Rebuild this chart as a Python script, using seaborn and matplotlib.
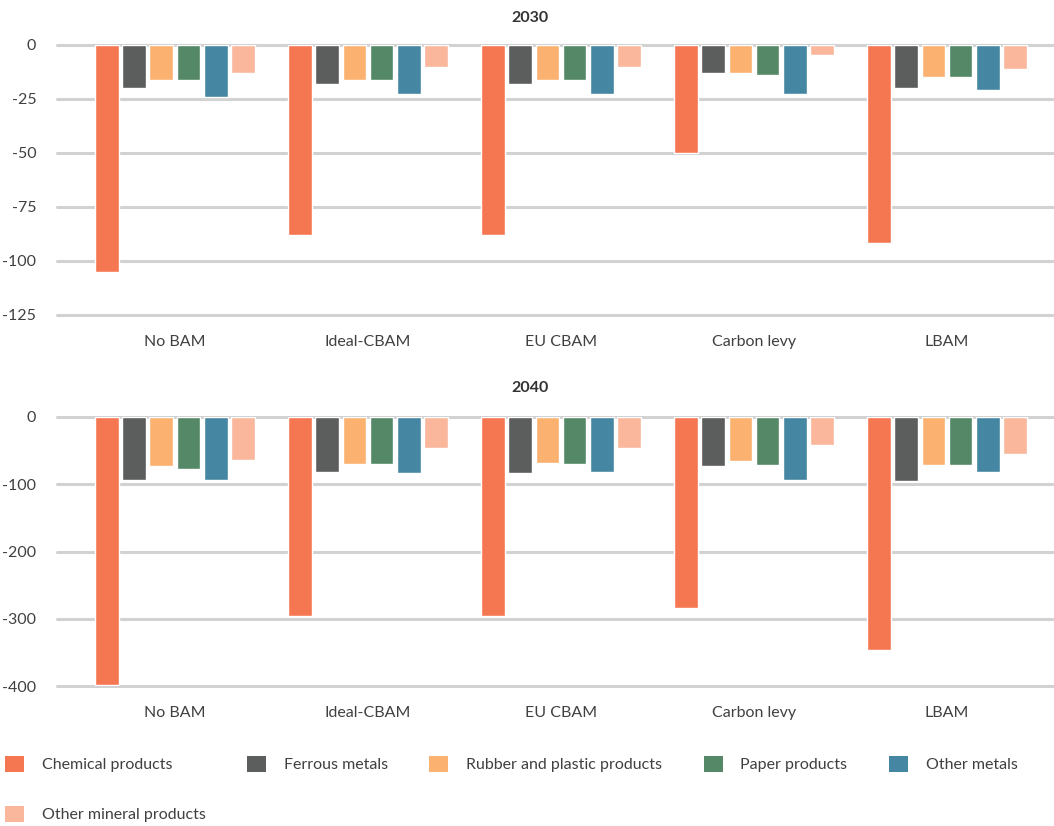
import matplotlib
matplotlib.use("Agg")
import matplotlib.pyplot as plt
import seaborn as sns
import pandas as pd

scenarios = ["No BAM", "Ideal-CBAM", "EU CBAM", "Carbon levy", "LBAM"]
sectors = ["Chemical products", "Ferrous metals", "Rubber and plastic products",
           "Paper products", "Other metals", "Other mineral products"]
colors = ["#F47752", "#5C5E5D", "#FBB170", "#548867", "#4587A3", "#FAB79C"]

# values per sector, per scenario (same order as scenarios)
v2030_chemical = [-105, -88, -88, -50, -91.5]
v2030_ferrous = [-20, -18, -18, -13, -20]
v2030_rubber = [-16, -16, -16, -13, -14.7]
v2030_paper = [-16, -16, -16, -14, -14.7]
v2030_othermetals = [-24, -22.5, -22.5, -22.5, -20.7]
v2030_mineral = [-13, -10, -10, -4.5, -11]

v2040_chemical = [-398, -296, -296, -284, -346]
v2040_ferrous = [-94, -82, -83, -73, -95]
v2040_rubber = [-73, -70, -68, -65, -71]
v2040_paper = [-77, -70, -70, -71, -71]
v2040_othermetals = [-94, -83, -82, -94, -82]
v2040_mineral = [-64, -46, -46, -42, -56]

yticks_2030 = [0, -25, -50, -75, -100, -125]
yticks_2040 = [0, -100, -200, -300, -400]


def long_df(series):
    rows = []
    for sec, vals in zip(sectors, series):
        for sc, v in zip(scenarios, vals):
            rows.append({"scenario": sc, "sector": sec, "value": v})
    return pd.DataFrame(rows)


df30 = long_df([v2030_chemical, v2030_ferrous, v2030_rubber, v2030_paper,
                v2030_othermetals, v2030_mineral])
df40 = long_df([v2040_chemical, v2040_ferrous, v2040_rubber, v2040_paper,
                v2040_othermetals, v2040_mineral])

sns.set_theme(style="white")
plt.rcParams["font.family"] = ["Lato", "DejaVu Sans"]
TXT = "#404040"

W, H = 1054, 826
fig = plt.figure(figsize=(W / 100, H / 100), dpi=100)


def px_axes(x0, y0, x1, y1):
    return fig.add_axes([x0 / W, 1 - y1 / H, (x1 - x0) / W, (y1 - y0) / H])


ax1 = px_axes(57, 45, 1053, 315)
ax2 = px_axes(57, 416.7, 1053, 686.3)

palette = dict(zip(sectors, colors))

for ax, df, ticks, lim in [(ax1, df30, yticks_2030, (-125, 0)),
                           (ax2, df40, yticks_2040, (-400, 0))]:
    sns.barplot(data=df, x="scenario", y="value", hue="sector", order=scenarios,
                hue_order=sectors, palette=palette, width=0.846, gap=0.13,
                saturation=1, legend=False, ax=ax, errorbar=None)
    ax.set_ylim(*lim)
    ax.set_yticks(ticks)
    ax.set_yticklabels([str(t) for t in ticks])
    ax.set_xlim(-0.611, 4.549)
    ax.set_xlabel("")
    ax.set_ylabel("")
    for s in ax.spines.values():
        s.set_visible(False)
    ax.set_axisbelow(True)
    ax.yaxis.grid(True, color="#D2D2D2", linewidth=2.2)
    for gl in ax.get_ygridlines():
        gl.set_clip_on(False)
    ax.tick_params(axis="both", length=0, labelsize=11.5, colors=TXT)
    ax.tick_params(axis="y", pad=15)
    ax.tick_params(axis="x", pad=14.5)

fig.text(530 / W, 1 - 18 / H, "2030", ha="center", va="center",
         fontsize=11.5, fontweight="bold", color="#333333")
fig.text(530 / W, 1 - 388 / H, "2040", ha="center", va="center",
         fontsize=11.5, fontweight="bold", color="#333333")

# legend is filled column by column; order so it reads row by row
order = [0, 5, 1, 2, 3, 4]
handles = [plt.Rectangle((0, 0), 1, 1, facecolor=colors[i], edgecolor="none") for i in order]
labels = [sectors[i] for i in order]
leg = fig.legend(handles, labels, loc="upper left",
                 bbox_to_anchor=(0 / W, 1 - 751 / H), ncol=5, frameon=False,
                 fontsize=11.5, handlelength=1.2, handleheight=1.2,
                 handletextpad=1.1, columnspacing=2.6, labelspacing=2.1,
                 borderaxespad=0, borderpad=0.3)
for t in leg.get_texts():
    t.set_color(TXT)

fig.savefig("out.png", dpi=100, facecolor="white")
